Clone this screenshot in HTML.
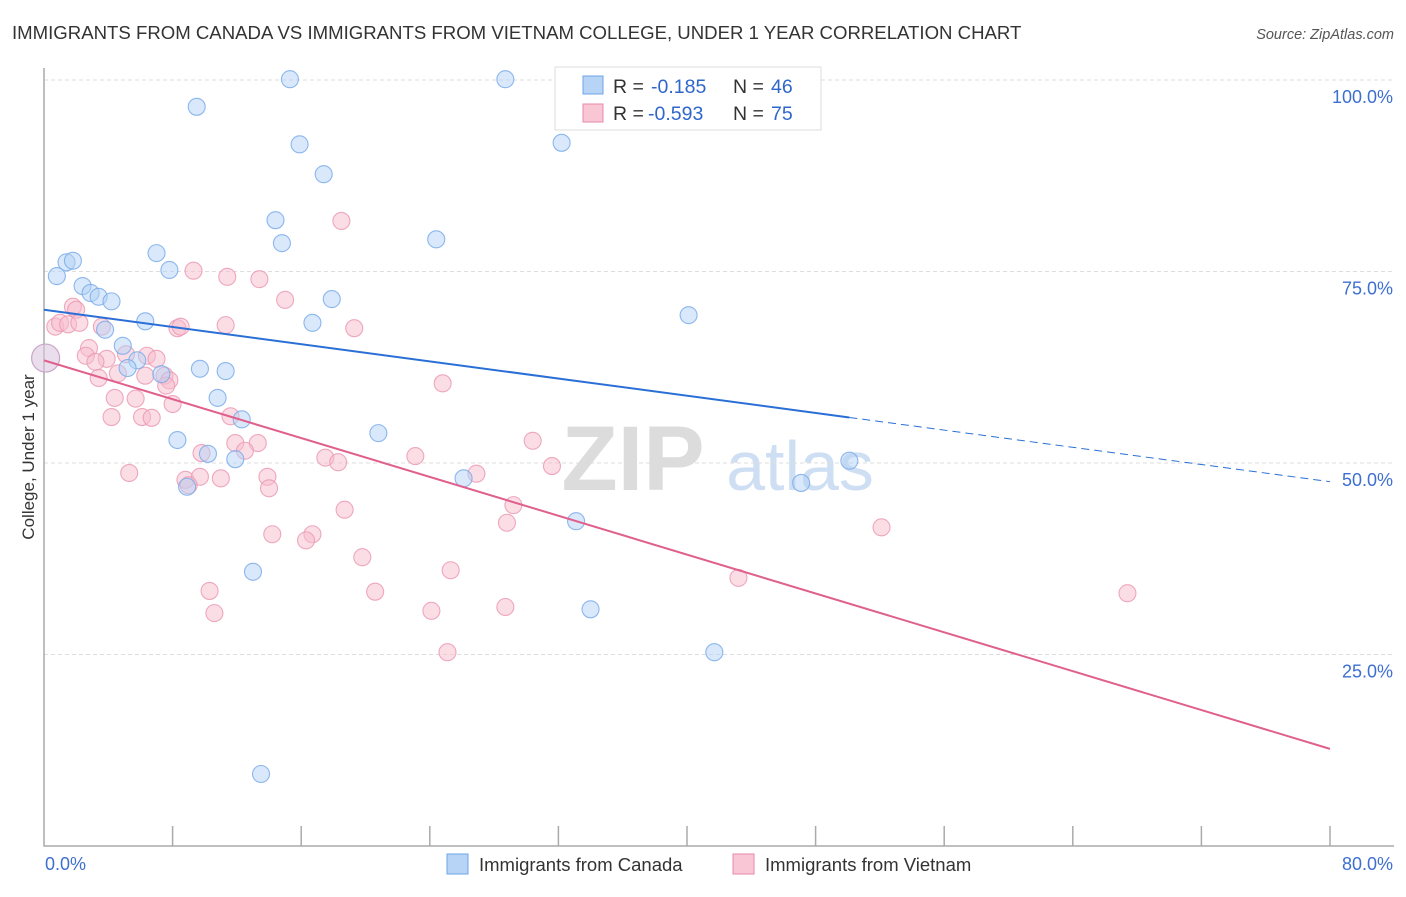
<!DOCTYPE html>
<html><head><meta charset="utf-8"><style>
body{margin:0;background:#fff;font-family:"Liberation Sans",sans-serif}
svg text{font-family:"Liberation Sans",sans-serif}
</style></head><body>
<svg width="1406" height="892" viewBox="0 0 1406 892" xmlns="http://www.w3.org/2000/svg">
<text x="12" y="39" font-size="18.6" fill="#333">IMMIGRANTS FROM CANADA VS IMMIGRANTS FROM VIETNAM COLLEGE, UNDER 1 YEAR CORRELATION CHART</text>
<text x="1394" y="39" font-size="14.5" fill="#555" font-style="italic" text-anchor="end">Source: ZipAtlas.com</text>
<g>
<text x="633" y="490" font-size="92" fill="#dcdcdc" font-family="Liberation Serif" text-anchor="middle" font-weight="bold">ZIP</text>
<text x="800" y="490" font-size="70" fill="#cfdff3" text-anchor="middle">atlas</text>
</g>
<g id="grid"></g>
<g id="axes"></g>
<g id="pts"></g>
<g id="lines"></g>
<text transform="translate(34,457) rotate(-90)" font-size="17" fill="#333" text-anchor="middle">College, Under 1 year</text>
<g>
<rect x="555" y="67" width="266" height="63" fill="#fff" stroke="#ddd"/>
<rect x="583" y="76" width="20" height="18" fill="#b7d3f5" stroke="#6fa4e6"/>
<rect x="583" y="104" width="20" height="18" fill="#f9c6d5" stroke="#e88aa8"/>
<text y="93" font-size="19.5" fill="#333"><tspan x="613">R =</tspan><tspan x="651" fill="#2f66cc">-0.185</tspan><tspan x="733">N =</tspan><tspan x="771" fill="#2f66cc">46</tspan></text>
<text y="120" font-size="19.5" fill="#333"><tspan x="613">R =</tspan><tspan x="648" fill="#2f66cc">-0.593</tspan><tspan x="733">N =</tspan><tspan x="771" fill="#2f66cc">75</tspan></text>
</g>
<g>
<rect x="447" y="854" width="21" height="20" fill="#b7d3f5" stroke="#6fa4e6"/>
<text x="479" y="871" font-size="18.5" fill="#333">Immigrants from Canada</text>
<rect x="733" y="854" width="21" height="20" fill="#f9c6d5" stroke="#e88aa8"/>
<text x="765" y="871" font-size="18.5" fill="#333">Immigrants from Vietnam</text>
</g>
</svg>
<script>
const blueX=[15.3,28.7,33.2,9.5,15.9,32.2,17.4,14.4,14.8,24.4,7.0,1.4,1.8,0.8,7.8,2.4,2.9,3.4,4.2,17.9,6.3,16.7,40.1,3.8,4.9,5.8,5.2,9.7,11.3,7.3,10.8,12.3,20.8,8.3,10.2,11.9,50.1,26.1,47.1,8.9,33.1,13.0,34.0,41.7,13.5];
const blueY=[100.1,100.1,100,96.5,91.6,91.8,87.7,81.7,78.7,79.2,77.4,76.2,76.4,74.4,75.2,73.1,72.2,71.7,71.1,71.4,68.5,68.3,69.3,67.4,65.3,63.4,62.4,62.3,62.0,61.6,58.5,55.7,53.9,53.0,51.2,50.5,50.3,48.0,47.4,46.9,42.4,35.8,30.9,25.3,9.4];
const pinkX=[18.5,9.3,11.4,13.4,15.0,1.8,2.0,0.7,1.0,1.5,2.2,3.6,11.3,8.3,8.5,19.3,2.8,2.6,3.9,3.2,5.1,6.4,7.0,4.6,6.3,3.4,7.5,7.8,7.6,24.8,4.4,5.7,8.0,4.2,6.1,6.7,11.6,11.9,13.3,12.5,30.4,9.8,17.5,18.3,23.1,31.6,5.3,8.8,9.7,11.0,13.9,26.9,9.0,14.0,29.2,18.7,28.8,52.1,14.2,16.7,16.3,19.8,25.3,43.2,10.3,20.6,67.4,24.1,28.7,10.6,25.1];
const pinkY=[81.6,75.1,74.3,74.0,71.3,70.4,70.0,67.8,68.3,68.1,68.3,67.8,68.0,67.6,67.8,67.6,65.0,64.0,63.6,63.2,64.2,64.0,63.6,61.7,61.4,61.1,61.4,60.8,60.1,60.4,58.5,58.4,57.7,56.0,56.0,55.9,56.1,52.6,52.6,51.6,52.9,51.3,50.7,50.1,50.9,49.6,48.7,47.8,48.2,48.0,48.2,48.6,47.1,46.7,44.5,43.9,42.2,41.6,40.7,40.7,39.9,37.7,36.0,35.0,33.3,33.2,33.0,30.7,31.2,30.4,25.3];
const bigPoint=[0.1,63.7];
const blueTrend=[70.0,-0.2805];
const pinkTrend=[63.4,-0.634];
const blueSolidEnd=50.1;
const yTicks=[25,50,75,100];
const xTickVals=[8,16,24,32,40,48,56,64,72,80];

const NS="http://www.w3.org/2000/svg";
const sx=v=>44+v*16.075, sy=v=>846-v*7.66;
function mk(tag,attrs,parent){const e=document.createElementNS(NS,tag);for(const k in attrs)e.setAttribute(k,attrs[k]);parent.appendChild(e);return e;}
const grid=document.getElementById('grid'),axes=document.getElementById('axes'),pts=document.getElementById('pts'),lines=document.getElementById('lines');
yTicks.forEach(t=>{
 const l=mk('line',{x1:44,x2:1394,y1:sy(t),y2:sy(t),stroke:'#ddd','stroke-dasharray':'4,3'},grid);
 
 
 const tx=mk('text',{x:1393,y:sy(t)+23,'font-size':18,fill:'#3d6fd1','text-anchor':'end'},grid);
 tx.textContent=t.toFixed(1)+'%';
 
 
});
const ax=mk('path',{d:'M44,68 V846 H1394',fill:'none',stroke:'#aaa','stroke-width':1.5},axes);


xTickVals.forEach(t=>{
 const l=mk('line',{x1:sx(t),x2:sx(t),y1:826,y2:846,stroke:'#aaa','stroke-width':1.5},axes);
 
 
});
const x0=mk('text',{x:45,y:870,'font-size':18,fill:'#3d6fd1'},axes);x0.textContent='0.0%';


const x1=mk('text',{x:1393,y:870,'font-size':18,fill:'#3d6fd1','text-anchor':'end'},axes);x1.textContent='80.0%';


function dots(X,Y,fill,stroke,name){X.forEach((x,i)=>{
 const c=mk('circle',{cx:sx(x),cy:sy(Y[i]),r:8.5,fill:fill,'fill-opacity':0.5,stroke:stroke,'stroke-width':1.1,'stroke-opacity':0.85},pts);
 
 
});}
dots(pinkX,pinkY,'#f7bccd','#eb9ab4','point-vietnam');
dots(blueX,blueY,'#b3d1f5','#7aacea','point-canada');
const bp=mk('circle',{cx:sx(bigPoint[0]),cy:sy(bigPoint[1]),r:14,fill:'#dcc8e0','fill-opacity':0.6,stroke:'#c9a6c8','stroke-width':1.2},pts);


const f=(t,x)=>t[0]+t[1]*x;
const bl=mk('line',{x1:sx(0),y1:sy(f(blueTrend,0)),x2:sx(blueSolidEnd),y2:sy(f(blueTrend,blueSolidEnd)),stroke:'#2a6fd6','stroke-width':2},lines);


const bd=mk('line',{x1:sx(blueSolidEnd),y1:sy(f(blueTrend,blueSolidEnd)),x2:sx(80),y2:sy(f(blueTrend,80)),stroke:'#2a6fd6','stroke-width':1,'stroke-dasharray':'8,5'},lines);


const pl=mk('line',{x1:sx(0),y1:sy(f(pinkTrend,0)),x2:sx(80),y2:sy(f(pinkTrend,80)),stroke:'#e0608d','stroke-width':2},lines);


</script>
</body></html>
